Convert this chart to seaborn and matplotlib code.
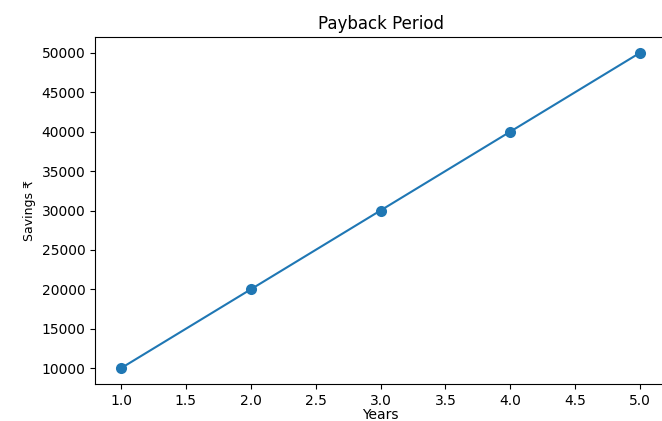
import matplotlib
matplotlib.use("Agg")
import matplotlib.pyplot as plt
import seaborn as sns
import pandas as pd

years = [1, 2, 3, 4, 5]
savings = [10000, 20000, 30000, 40000, 50000]

df = pd.DataFrame({"Years": years, "Savings": savings})

plt.rcParams['font.family'] = ['DejaVu Sans', 'Noto Sans']
fig = plt.figure(figsize=(6.62, 4.21), dpi=100)
ax = fig.add_axes([95/662, (421-384)/421, (666-95)/662, (384-37)/421])
sns.lineplot(data=df, x="Years", y="Savings", marker="o", color="#1f77b4",
             markersize=8, markeredgewidth=0, ax=ax)
ax.set_title("Payback Period", fontsize=12)
ax.set_xlabel("Years", fontsize=10, labelpad=0)
ax.set_ylabel("Savings ₹", fontsize=9)
ax.set_xticks([1.0, 1.5, 2.0, 2.5, 3.0, 3.5, 4.0, 4.5, 5.0])
ax.set_yticks(range(10000, 50001, 5000))
ax.tick_params(labelsize=10)
fig.savefig("out.png", dpi=100)
